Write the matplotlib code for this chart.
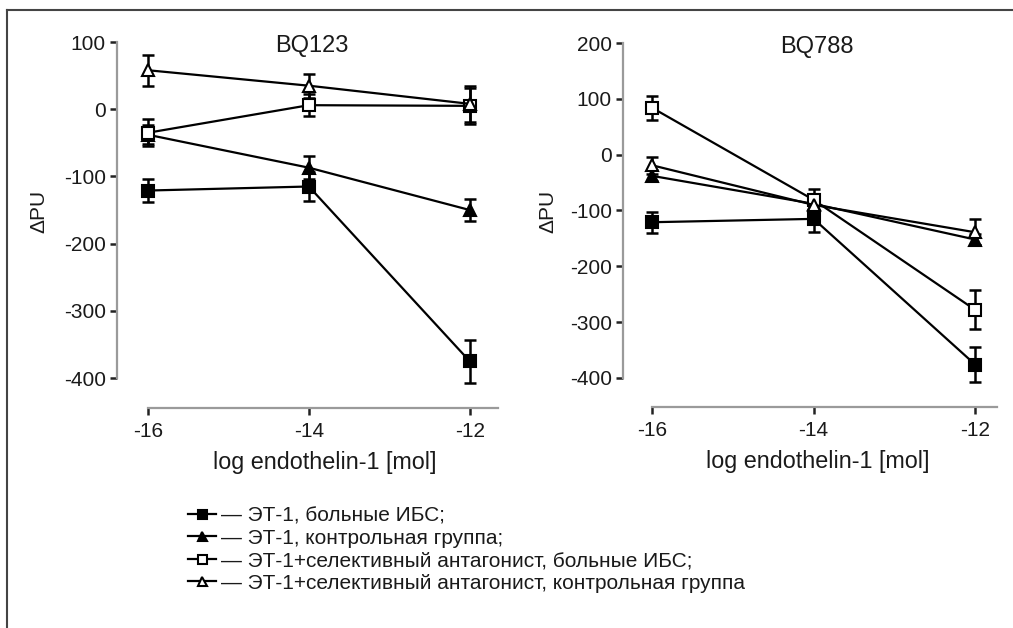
import matplotlib
matplotlib.use("Agg")
import matplotlib.pyplot as plt
from matplotlib.lines import Line2D

plt.rcParams["font.family"] = ["Liberation Sans", "DejaVu Sans"]

# log endothelin-1 dose
doses = [-16, -14, -12]

# BQ123 panel: mean and error per series
bq123_ihd = [-121, -115, -375]
bq123_ihd_err = [17, 21, 32]
bq123_ctrl = [-38, -87, -150]
bq123_ctrl_err = [14, 17, 16]
bq123_ihd_ant = [-35, 6, 5]
bq123_ihd_ant_err = [20, 16, 27]
bq123_ctrl_ant = [58, 35, 8]
bq123_ctrl_ant_err = [23, 18, 27]

# BQ788 panel
bq788_ihd = [-121, -115, -376]
bq788_ihd_err = [19, 24, 32]
bq788_ctrl = [-38, -88, -152]
bq788_ctrl_err = [10, 14, 10]
bq788_ihd_ant = [84, -81, -278]
bq788_ihd_ant_err = [21, 20, 35]
bq788_ctrl_ant = [-19, -90, -139]
bq788_ctrl_ant_err = [15, 18, 23]

labels = [
    "— ЭТ-1, больные ИБС;",
    "— ЭТ-1, контрольная группа;",
    "— ЭТ-1+селективный антагонист, больные ИБС;",
    "— ЭТ-1+селективный антагонист, контрольная группа",
]
markers = ["s", "^", "s", "^"]
fills = ["black", "black", "white", "white"]

SPINE = "#9a9a9a"
TXT = "#1a1a1a"


def draw_panel(ax, series, title, ylim, yticks, xlim, ylab_x, xlab_x):
    handles = []
    for (vals, errs), m, fc in zip(series, markers, fills):
        ax.errorbar(doses, vals, yerr=errs, fmt="none", ecolor="black",
                    elinewidth=1.8, capsize=4, capthick=1.8, zorder=2)
        (ln,) = ax.plot(doses, vals, color="black", lw=1.6, marker=m, ms=9,
                        mfc=fc, mec="black", mew=1.5, zorder=3, clip_on=False)
        handles.append(ln)
    ax.set_ylim(*ylim)
    ax.set_xlim(*xlim)
    ax.set_xticks(doses)
    ax.set_xticklabels([str(d) for d in doses])
    ax.set_yticks(yticks)
    ax.set_yticklabels([str(t) for t in yticks])
    for s in ("top", "right"):
        ax.spines[s].set_visible(False)
    ax.spines["left"].set_bounds(yticks[-1], yticks[0])
    ax.spines["bottom"].set_bounds(-16, xlim[1])
    for s in ("left", "bottom"):
        ax.spines[s].set_color(SPINE)
        ax.spines[s].set_linewidth(1.6)
    ax.tick_params(axis="both", length=5, width=1.8, color="#222222",
                   labelsize=15, labelcolor=TXT, pad=3)
    ax.tick_params(axis="x", pad=5)
    ax.set_xlabel("log endothelin-1 [mol]", fontsize=16.8, color=TXT)
    ax.set_ylabel("ΔPU", fontsize=15, color=TXT)
    ax.yaxis.set_label_coords(ylab_x, 0.536)
    ax.xaxis.set_label_coords(xlab_x, -0.118)
    ax.annotate(title, xy=(-13.96, yticks[0]), xytext=(0, -3),
                textcoords="offset points", ha="center", va="center",
                fontsize=17, color=TXT)
    return handles


fig = plt.figure(figsize=(10.13, 6.28), dpi=100)
ax1 = fig.add_axes([0.1155, 0.3503, 0.376, 0.5828])
ax2 = fig.add_axes([0.615, 0.3519, 0.3692, 0.5796])

h = draw_panel(ax1, [(bq123_ihd, bq123_ihd_err), (bq123_ctrl, bq123_ctrl_err),
                     (bq123_ihd_ant, bq123_ihd_ant_err),
                     (bq123_ctrl_ant, bq123_ctrl_ant_err)],
               "BQ123", (-444.6, 100), [100, 0, -100, -200, -300, -400],
               (-16.385, -11.65), -0.181, 0.546)
draw_panel(ax2, [(bq788_ihd, bq788_ihd_err), (bq788_ctrl, bq788_ctrl_err),
                 (bq788_ihd_ant, bq788_ihd_ant_err),
                 (bq788_ctrl_ant, bq788_ctrl_ant_err)],
           "BQ788", (-452, 200), [200, 100, 0, -100, -200, -300, -400],
           (-16.36, -11.73), -0.176, 0.521)

fig.legend(h, labels, loc="upper left", bbox_to_anchor=(188 / 1013, 1 - 506 / 628),
           frameon=False, fontsize=15, handlelength=1.35, handletextpad=0.25,
           labelspacing=0.17, borderpad=0, borderaxespad=0, labelcolor=TXT,
           markerscale=0.72)

# figure frame (top and left edges only, as in the cropped original)
fig.add_artist(Line2D([7 / 1013, 7 / 1013], [0, 1 - 10 / 628], transform=fig.transFigure,
                      color="#444444", lw=1.5))
fig.add_artist(Line2D([7 / 1013, 1], [1 - 10 / 628, 1 - 10 / 628], transform=fig.transFigure,
                      color="#444444", lw=1.5))

fig.savefig("out.png", dpi=100)
